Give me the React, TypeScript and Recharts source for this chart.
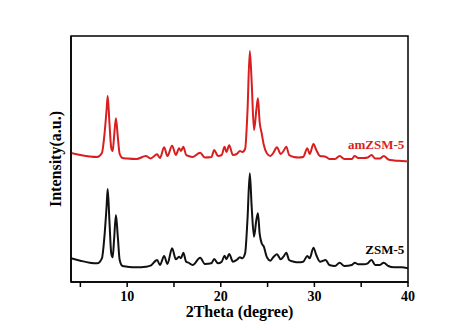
import { LineChart, Line, XAxis, YAxis, ReferenceDot, ReferenceArea } from "recharts"

// 2theta sampling points (degree)
const theta = [
  4.0, 5.0, 6.0, 6.8, 7.3, 7.6, 7.8, 7.92, 8.1, 8.3, 8.45, 8.6, 8.8, 9.0, 9.2, 9.5,
  10, 11, 12, 12.5, 13.2, 13.5, 13.95, 14.3, 14.8, 15.2, 15.55, 15.75, 16.0, 16.3, 16.55,
  17.0, 17.8, 18.3, 19.0, 19.3, 19.7, 20.1, 20.4, 20.6, 20.9, 21.3, 21.7, 22.05, 22.3,
  22.6, 22.85, 23.1, 23.3, 23.55, 23.8, 23.97, 24.15, 24.37, 24.6, 24.9, 25.3, 25.6,
  26.0, 26.4, 26.7, 27.0, 27.3, 27.8, 28.3, 28.8, 29.25, 29.5, 29.9, 30.2, 30.6, 31.2,
  31.6, 32.2, 32.7, 33.2, 34.0, 34.3, 34.7, 35.3, 35.7, 36.1, 36.5, 37.0, 37.4, 37.9,
  38.5, 39.3, 40,
]

// ZSM-5 intensity (a.u.)
const zsm5 = [
  23.7, 21.3, 19.3, 18.7, 23.7, 48.7, 75.3, 93, 62, 28.7, 24.7, 42, 67, 45.3, 22, 16,
  15.3, 14.7, 15.3, 16.3, 22, 17, 26, 18, 33.7, 22.7, 25.3, 23.7, 29.3, 20.3, 19.3,
  17, 24.3, 18, 18.7, 23, 18.7, 20.3, 26.3, 22.7, 28, 20.3, 22, 24.7, 23.7,
  28.7, 62, 108.7, 75.3, 45.3, 62, 68.7, 48.7, 38.7, 35.3, 25.3, 21.3, 24.7,
  27.7, 22.7, 25.3, 29.3, 22, 20.3, 19.7, 20.3, 26, 23.7, 34.3, 27, 20.3, 22,
  17, 16, 19.3, 16, 17, 19.3, 17.7, 17.7, 18.7, 22, 17, 17, 19.3, 16,
  14.7, 14.7, 13.7,
]

// amZSM-5 intensity (a.u.), offset above ZSM-5
const amZsm5 = [
  129, 127, 125.5, 125, 129, 150, 172, 186, 160, 134, 131, 145, 163.7, 145, 128, 124,
  123.5, 123, 126, 123.5, 127.7, 124, 134.7, 126, 136.3, 127, 133.7, 131, 135.3, 127, 126,
  125, 129.3, 124.5, 125, 132, 126, 127, 135.3, 130, 136.7, 127, 128, 131, 130,
  133, 170, 231, 200, 152, 172, 183.7, 160, 148.7, 137, 129, 126, 129,
  134.7, 128, 131, 135.3, 127, 125, 124.5, 125, 133.7, 128, 138, 132, 126, 125.3,
  123, 123, 126, 123, 123, 126, 124, 124, 124.5, 127, 123.5, 123.5, 126, 122.5,
  121.5, 121, 120.5,
]

const xTicks = [5, 10, 15, 20, 25, 30, 35, 40]

const data = theta.map((t, i) => ({ theta: t, zsm5: zsm5[i], amZsm5: amZsm5[i] }))

const font = "'Liberation Serif', 'Times New Roman', serif"
const red = "#d81e1e"

const XTick = (props: any) => {
  const { x, y, payload } = props
  if (payload.value % 10 !== 0) return <g />
  return (
    <text
      x={x}
      y={y}
      dy="0.71em"
      textAnchor="middle"
      fill="#000"
      style={{ fontFamily: font, fontWeight: 700, fontSize: 14 }}
    >
      {payload.value}
    </text>
  )
}

export default function App() {
  return (
    <div style={{ position: "absolute", left: 0, top: 0 }}>
      <LineChart width={474} height={330} data={data} margin={{ top: 36, right: 66, left: 39, bottom: 0 }}>
        <XAxis
          dataKey="theta"
          type="number"
          domain={[4, 40]}
          ticks={xTicks}
          allowDataOverflow
          height={48}
          tickSize={5}
          tickMargin={4}
          stroke="#000"
          strokeWidth={1.5}
          tick={<XTick />}
          label={{
            value: "2Theta (degree)",
            position: "insideBottom",
            offset: 13,
            fill: "#000",
            fontSize: 16,
            fontWeight: "bold",
            fontFamily: font,
          }}
        />
        <YAxis
          type="number"
          domain={[0, 246]}
          width={32}
          tick={false}
          tickLine={false}
          stroke="#000"
          strokeWidth={1.5}
          label={{
            value: "Intensity(a.u.)",
            angle: -90,
            position: "center",
            fill: "#000",
            fontSize: 16,
            fontWeight: "bold",
            fontFamily: font,
          }}
        />
        <ReferenceArea x1={4} x2={40} y1={0} y2={246} fill="none" stroke="#000" strokeWidth={1.5} ifOverflow="visible" />
        <Line type="monotone" dataKey="zsm5" stroke="#111" strokeWidth={2} dot={false} isAnimationActive={false} />
        <Line type="monotone" dataKey="amZsm5" stroke={red} strokeWidth={2} dot={false} isAnimationActive={false} />
        <ReferenceDot
          x={39.6}
          y={138}
          r={0}
          fill="none"
          stroke="none"
          label={{ value: "amZSM-5", position: "left", offset: 0, fill: red, fontSize: 13, fontWeight: "bold", fontFamily: font }}
        />
        <ReferenceDot
          x={39.6}
          y={33}
          r={0}
          fill="none"
          stroke="none"
          label={{ value: "ZSM-5", position: "left", offset: 0, fill: "#000", fontSize: 13, fontWeight: "bold", fontFamily: font }}
        />
      </LineChart>
    </div>
  )
}
